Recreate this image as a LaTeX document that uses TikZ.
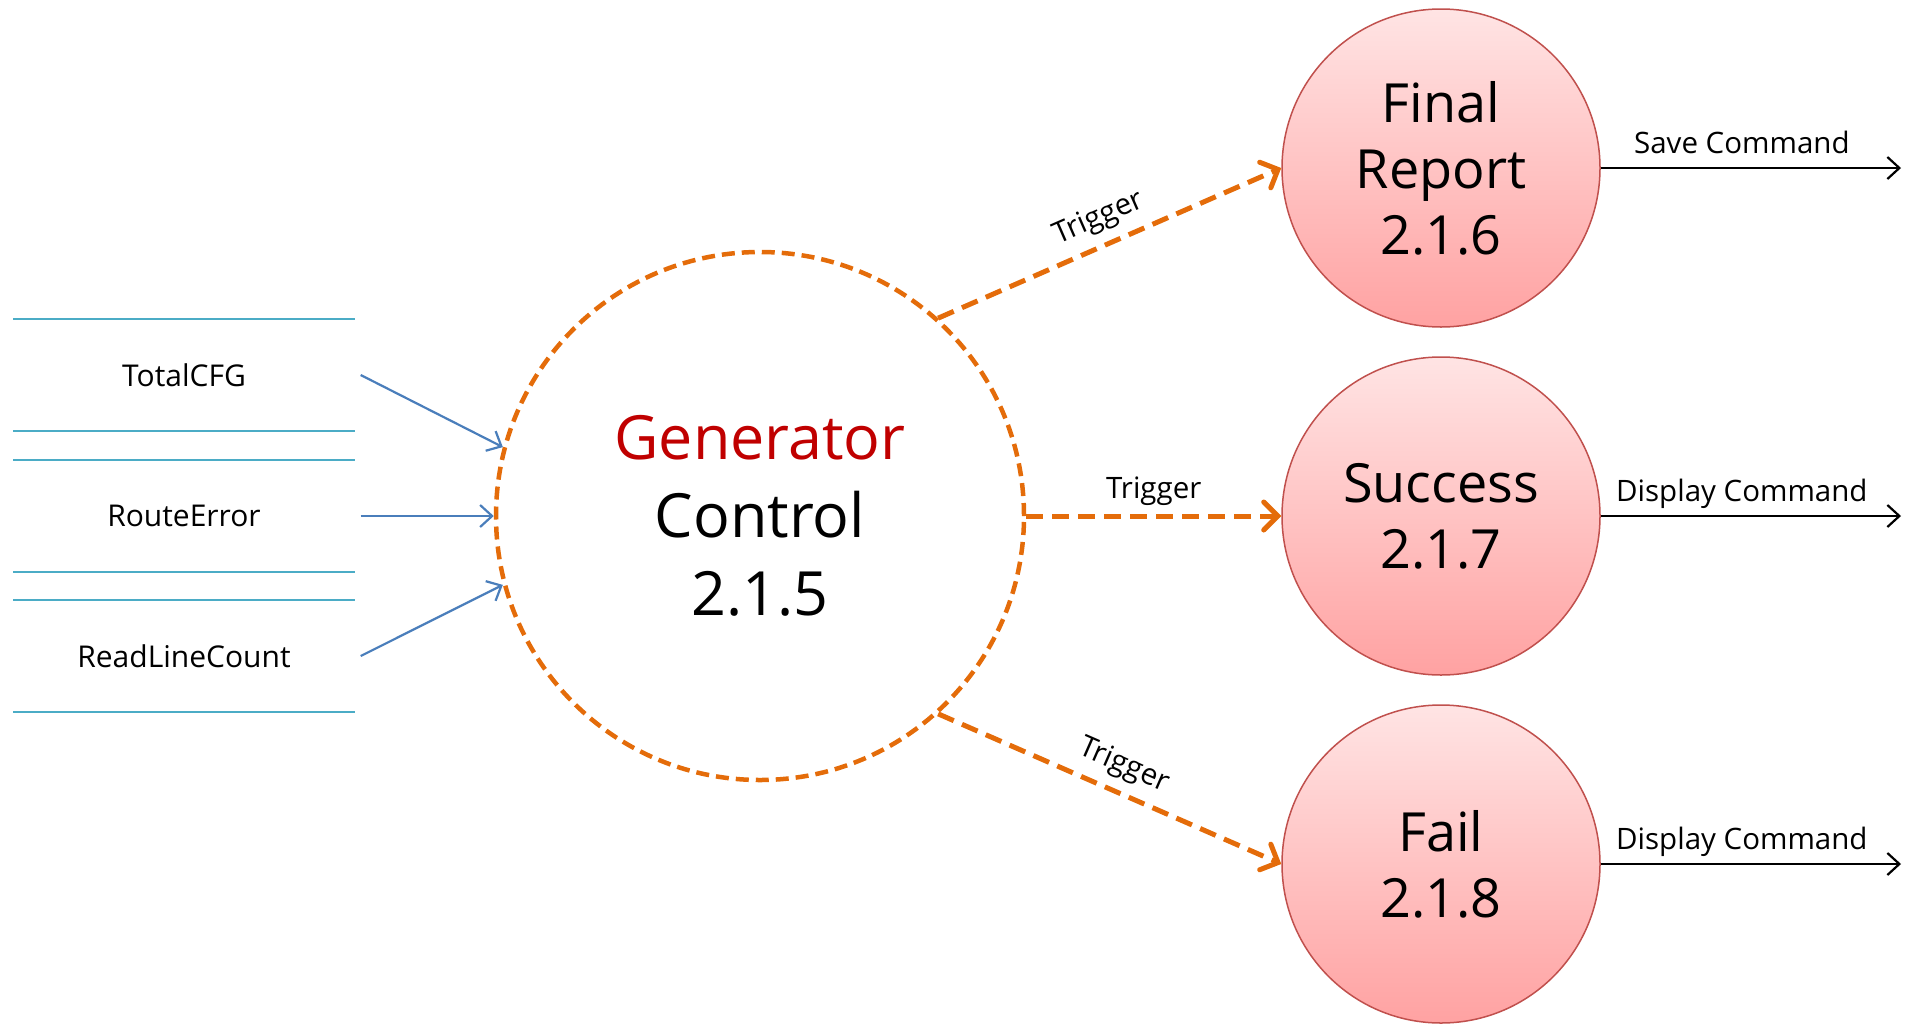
\documentclass[tikz,border=0pt]{standalone}
\usepackage{fontspec}
\setmainfont{Open Sans}
\usetikzlibrary{arrows.meta}

\definecolor{trigorange}{HTML}{E46C0A}
\definecolor{flowblue}{HTML}{4A7EBB}
\definecolor{storecyan}{HTML}{4BACC6}
\definecolor{genred}{HTML}{C00000}
\definecolor{procborder}{HTML}{C0504D}
\definecolor{proctop}{HTML}{FFE4E4}
\definecolor{procbottom}{HTML}{FFA2A2}

\begin{document}
\begin{tikzpicture}[%
  x=1pt, y=-1pt, % pixel units, y grows downwards
  every node/.style={text=black, align=center},
  store/.style={minimum width=341pt, minimum height=112pt, inner sep=0pt, font=\fontsize{30}{36}\selectfont}, % data stores
  storeline/.style={draw=storecyan, line width=2.5pt},
  process/.style={circle, draw=procborder, line width=1.5pt, top color=proctop, bottom color=procbottom, minimum size=318pt, inner sep=0pt, font=\fontsize{54}{66}\selectfont},
  control/.style={circle, draw=trigorange, line width=4.5pt, dash pattern=on 13pt off 7pt, minimum size=528pt, inner sep=0pt, font=\fontsize{61}{78}\selectfont},
  flow/.style={draw=flowblue, line width=2.2pt, -{Straight Barb[length=12pt, width=22pt, line width=2.2pt]}},
  trigger/.style={draw=trigorange, line width=5pt, dash pattern=on 17pt off 9pt, -{Straight Barb[length=14pt, width=28pt, line width=5pt, line cap=round]}},
  command/.style={draw=black, line width=2.2pt, -{Straight Barb[length=12pt, width=22pt, line width=2.2pt]}},
  flowlabel/.style={font=\fontsize{29.5}{34}\selectfont, text depth=0.25em}
]

\useasboundingbox (0,0) rectangle (1908,1023);

% Data stores
\node [store] (tcfg) at (184,375) {TotalCFG};
\node [store] (rerr) at (184,516) {RouteError};
\node [store] (rlc) at (184,656) {ReadLineCount};
\foreach \s in {tcfg,rerr,rlc} {
  \draw [storeline] (\s.north west) -- (\s.north east) (\s.south west) -- (\s.south east);
}

% Control process
\node [control] (gen) at (760,516) {%
  {\color{genred}Generator} \\ Control \\ 2.1.5
};

% Processes
\node [process] (final) at (1441,168) {Final \\ Report \\ 2.1.6};
\node [process] (succ) at (1441,516) {Success \\ 2.1.7};
\node [process] (fail) at (1441,864) {Fail \\ 2.1.8};

% Inputs
\draw [flow] ([xshift=6pt]tcfg.east) -- (gen.165);
\draw [flow] ([xshift=6pt]rerr.east) -- (gen.west);
\draw [flow] ([xshift=6pt]rlc.east) -- (gen.195);

% Triggers
\draw [trigger] (gen.48) -- node [flowlabel, sloped, above=11pt, pos=0.5] {Trigger} (final.west);
\draw [trigger] (gen.east) -- node [flowlabel, above=9pt, pos=0.5] {Trigger} (succ.west);
\draw [trigger] (gen.-48) -- node [flowlabel, sloped, above=11pt, pos=0.51] {Trigger} (fail.west);

% Commands
\coordinate (out1) at (1901,168);
\coordinate (out2) at (1901,516);
\coordinate (out3) at (1901,864);
\draw [command] (final.east) -- node [flowlabel, above=8pt, pos=0.47] {Save Command} (out1);
\draw [command] (succ.east) -- node [flowlabel, above=8pt, pos=0.47] {Display Command} (out2);
\draw [command] (fail.east) -- node [flowlabel, above=8pt, pos=0.47] {Display Command} (out3);

\end{tikzpicture}
\end{document}
